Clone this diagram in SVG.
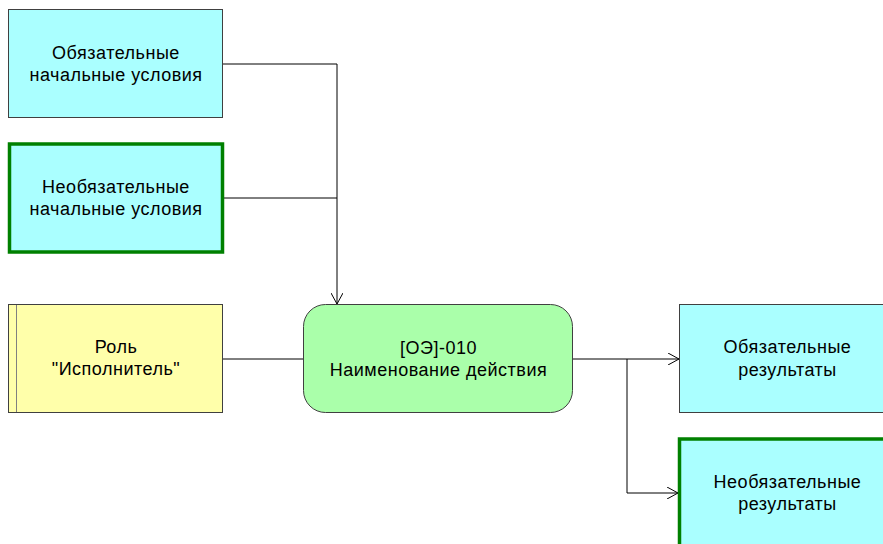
<svg xmlns="http://www.w3.org/2000/svg" width="883" height="544" viewBox="0 0 883 544">
<style>
.t{font-family:"Liberation Sans",Arial,sans-serif;font-size:18px;letter-spacing:0.5px;fill:#000;text-anchor:middle}
.req{fill:#AAFFFF;stroke:#404040;stroke-width:1}
.opt{fill:#AAFFFF;stroke:#008000;stroke-width:3.5}
.c{fill:none;stroke:#000;stroke-width:1}
</style>
<defs>
<marker id="a" viewBox="0 0 12 12" refX="11" refY="6" markerWidth="12" markerHeight="12" markerUnits="userSpaceOnUse" orient="auto">
<path d="M0,0 L11,6 L0,12" fill="none" stroke="#000" stroke-width="1"/>
</marker>
</defs>
<rect width="883" height="544" fill="#fff"/>
<g id="connectors">
<polyline class="c" points="223,64 337,64 337,304" marker-end="url(#a)"/>
<polyline class="c" points="224,198 337,198"/>
<polyline class="c" points="223,359 303,359"/>
<polyline class="c" points="573,359 679,359" marker-end="url(#a)"/>
<polyline class="c" points="627,359 627,493 678,493" marker-end="url(#a)"/>
</g>
<g id="n1">
<rect class="req" x="8.5" y="9.5" width="214" height="108"/>
<text class="t" x="116" y="59">Обязательные</text>
<text class="t" x="116" y="81">начальные условия</text>
</g>
<g id="n2">
<rect class="opt" x="9.5" y="144" width="213" height="108"/>
<text class="t" x="116" y="193">Необязательные</text>
<text class="t" x="116" y="215">начальные условия</text>
</g>
<g id="n3">
<rect x="8.5" y="304.5" width="214" height="108" fill="#FFFFAA" stroke="#404040"/>
<line x1="16.5" y1="305" x2="16.5" y2="412" stroke="#808080"/>
<text class="t" x="116" y="353">Роль</text>
<text class="t" x="116" y="375">"Исполнитель"</text>
</g>
<g id="n4">
<rect x="303.5" y="304.5" width="269" height="108" rx="22" ry="22" fill="#AAFFAA" stroke="#404040"/>
<text class="t" x="438.5" y="354">[ОЭ]-010</text>
<text class="t" x="438.5" y="376">Наименование действия</text>
</g>
<g id="n5">
<rect class="req" x="679.5" y="304.5" width="215" height="108"/>
<text class="t" x="787.5" y="353">Обязательные</text>
<text class="t" x="787.5" y="376">результаты</text>
</g>
<g id="n6">
<rect class="opt" x="679.5" y="439" width="215" height="120"/>
<text class="t" x="787.5" y="488">Необязательные</text>
<text class="t" x="787.5" y="510">результаты</text>
</g>
</svg>
